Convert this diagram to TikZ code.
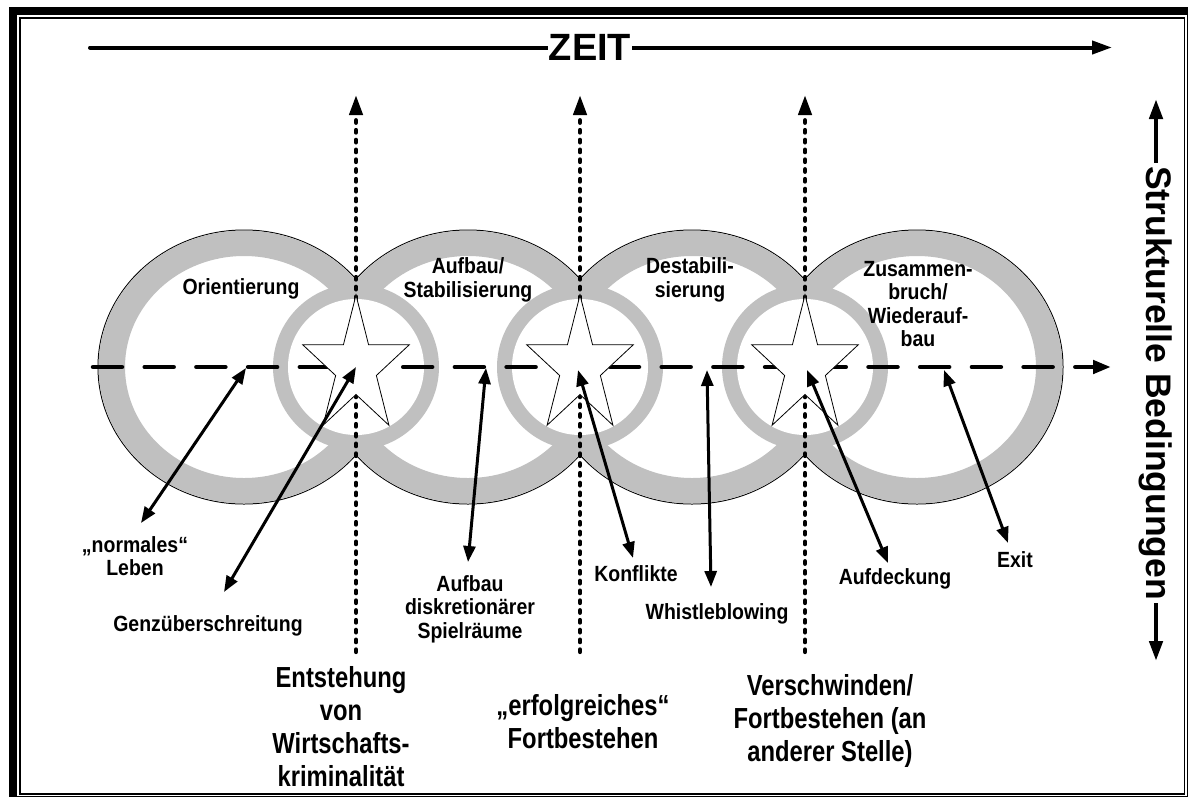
\documentclass[tikz,border=0pt]{standalone}
\usepackage{fontspec}
\setmainfont{Liberation Sans}
\newfontfamily\labelfont{Liberation Sans}[FakeStretch=0.885]
\newfontfamily\narrowfont{Liberation Sans}[FakeStretch=0.82]
\usetikzlibrary{arrows.meta}

\definecolor{ringgray}{RGB}{192,192,192}

\tikzset{
  lbl/.style={font=\labelfont\fontsize{22}{23.5}\selectfont\bfseries, align=center, inner sep=0pt},
  phase/.style={font=\narrowfont\fontsize{29}{33}\selectfont\bfseries, align=center, inner sep=0pt},
  axislabel/.style={font=\fontsize{38}{42}\selectfont\bfseries, fill=white, inner ysep=0pt},
  sidelabel/.style={font=\fontsize{35.5}{40}\selectfont\bfseries, fill=white, inner ysep=0pt},
  bigtip/.tip={Triangle[length=20pt,width=13pt]},
  smalltip/.tip={Triangle[length=16pt,width=12pt]},
  dblarrow/.style={line width=3pt, smalltip-smalltip},
  timeline/.style={line width=4pt, line cap=round, -bigtip},
  divider/.style={line width=4.2pt, line cap=round, dash pattern=on 2.6pt off 7.2pt, -bigtip},
  midline/.style={line width=4.5pt, line cap=round, dash pattern=on 29pt off 22.7pt, -{Triangle[length=18pt,width=13pt]}},
  starline/.style={draw=black, fill=white, line width=0.8pt, line join=miter},
}

\begin{document}
\begin{tikzpicture}[x=1pt,y=-1pt]
\useasboundingbox (0,0) rectangle (1188,796);

% double frame: heavy outer border, thin inner border
\draw[line width=8pt] (12.8,10.8) rectangle (1191,800);
\draw[line width=1.7pt] (19.8,18.2) rectangle (1184.5,794.3);

% four large phase rings
\foreach \cx in {244,468,692,917}
  \draw[line width=1pt] (\cx,367) circle[x radius=146, y radius=137];
\foreach \cx in {244,468,692,917}
  \fill[ringgray, even odd rule] (\cx,367) circle[x radius=145.5, y radius=136.5]
    (\cx,367) circle[x radius=119, y radius=111];

% small transition rings
\foreach \cx in {356,580,805} {
  \fill[ringgray] (\cx,367) circle[radius=83];
  \fill[white] (\cx,367) circle[radius=68];
}

% horizontal axis through the rings
\coordinate (midA) at (93,367);
\coordinate (midB) at (1111,367);
\draw[midline] (midA) -- (midB);

% vertical dividers
\foreach \x [count=\i] in {356,580,805} {
  \coordinate (div\i b) at (\x,652);
  \coordinate (div\i t) at (\x,95);
  \draw[divider] (div\i b) -- (div\i t);
}

% stars on the transitions
\foreach \x in {356,580,805} {
  \begin{scope}[shift={(\x,367)}, xscale=0.778]
    \draw[starline] (-90:72) -- (-54:27.5) -- (-18:72) -- (18:27.5) -- (54:72)
      -- (90:27.5) -- (126:72) -- (162:27.5) -- (198:72) -- (234:27.5) -- cycle;
  \end{scope}
}

% ring titles
\node[lbl] (orient) at (241,289) {Orientierung};
\node[lbl] (stabil) at (468,280) {Aufbau/\\Stabilisierung};
\node[lbl] (destab) at (690,280) {Destabili-\\sierung};
\node[lbl] (zusam) at (918,304) {Zusammen-\\bruch/\\Wiederauf-\\bau};

% event labels
\node[lbl] (normal) at (135,556) {„normales“\\Leben};
\node[lbl] (grenz) at (208,626) {Genzüberschreitung};
\node[lbl] (spiel) at (470,609) {Aufbau\\diskretionärer\\Spielräume};
\node[lbl] (konfl) at (636,574) {Konflikte};
\node[lbl] (whistle) at (717,614) {Whistleblowing};
\node[lbl] (aufdeck) at (895,579) {Aufdeckung};
\node[lbl] (exit) at (1015,560) {Exit};

% phase captions
\node[phase] (entst) at (341,727) {Entstehung\\von\\Wirtschafts-\\kriminalität};
\node[phase] (erfolg) at (583,722) {„erfolgreiches“\\Fortbestehen};
\node[phase] (versch) at (830,721) {Verschwinden/\\Fortbestehen (an\\anderer Stelle)};

% event arrows
\coordinate (normalT) at (246,368);  \coordinate (normalB) at (141,523);
\coordinate (grenzT) at (356,367);   \coordinate (grenzB) at (224,592);
\coordinate (spielT) at (486,368);   \coordinate (spielB) at (468,562);
\coordinate (konflT) at (578,370);   \coordinate (konflB) at (633,558);
\coordinate (whistleT) at (707,370); \coordinate (whistleB) at (711,587);
\coordinate (aufdeckT) at (807,370); \coordinate (aufdeckB) at (888,563);
\coordinate (exitT) at (944,370);    \coordinate (exitB) at (1008,543);
\foreach \n in {normal,grenz,spiel,konfl,whistle,aufdeck,exit}
  \draw[dblarrow] (\n T) -- (\n B);

% time axis
\coordinate (timeA) at (90,47.5);
\coordinate (timeB) at (1112,47.5);
\draw[timeline] (timeA) -- (timeB);
\node[axislabel, inner xsep=1pt] (zeit) at (590,47.5) {ZEIT};

% structural conditions axis
\coordinate (strucT) at (1156,99);
\coordinate (strucB) at (1156,661);
\draw[line width=4.5pt, bigtip-bigtip] (strucB) -- (strucT);
\node[sidelabel, rotate=-90, inner xsep=3pt] (struc) at (1156,383) {Strukturelle Bedingungen};
\end{tikzpicture}
\end{document}
